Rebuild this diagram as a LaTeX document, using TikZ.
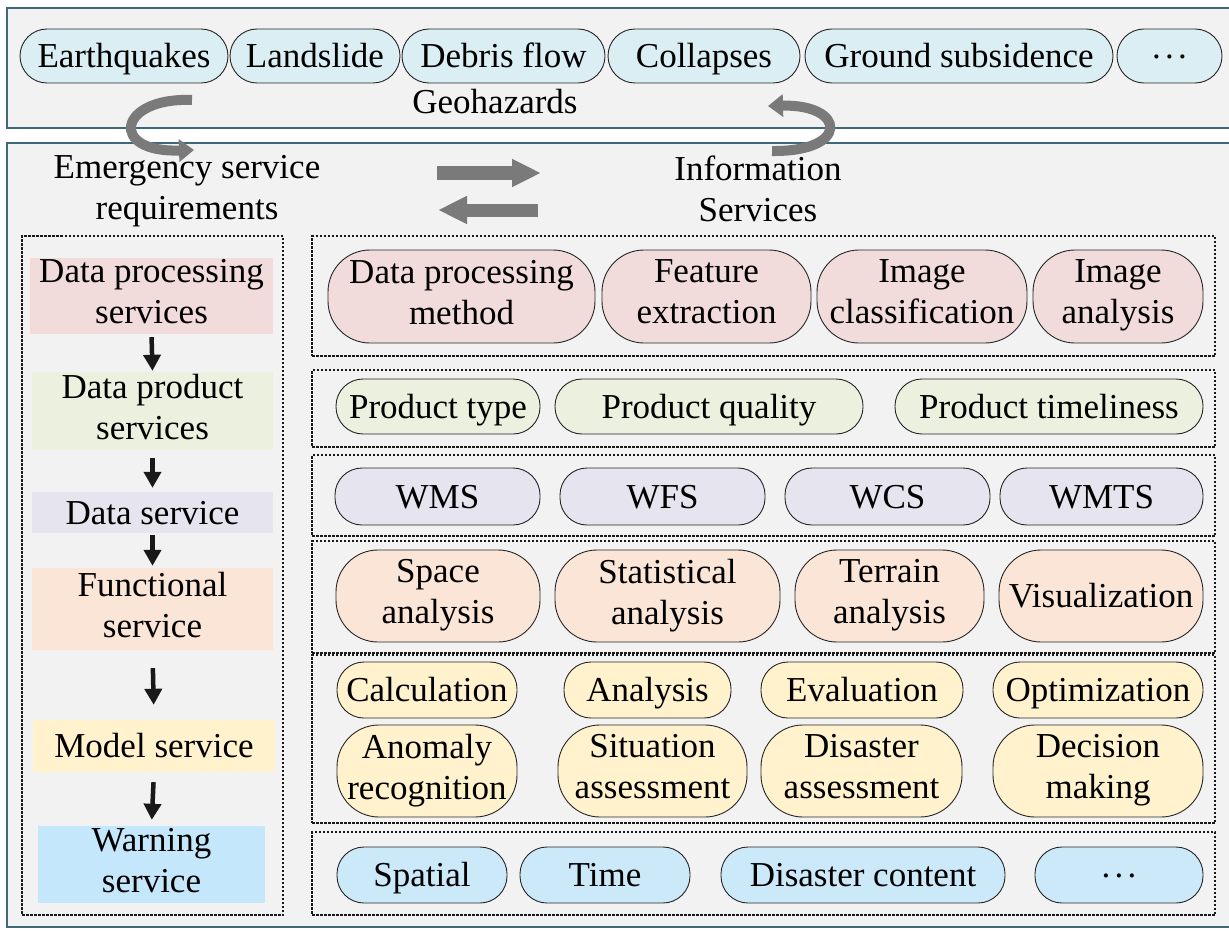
\documentclass[tikz,border=0pt]{standalone}
\usepackage{fontspec}
\setmainfont{Liberation Serif}
\usetikzlibrary{arrows.meta,fit,calc}
\definecolor{bgc}{HTML}{F2F2F2}
\definecolor{framec}{HTML}{41677A}
\definecolor{topblue}{HTML}{DAEEF3}
\definecolor{pinkc}{HTML}{F2DCDB}
\definecolor{greenc}{HTML}{EBF1DE}
\definecolor{lavc}{HTML}{E6E4EE}
\definecolor{peachc}{HTML}{FBE5D6}
\definecolor{yellowc}{HTML}{FFF2CC}
\definecolor{lblue}{HTML}{CCE9FA}
\definecolor{wblue}{HTML}{C5E7FB}
\definecolor{arrgray}{HTML}{7A7A7A}
\newcommand\bnode[7][]{\node[#1, minimum width={#5-#3}, minimum height={#6-#4}] (#2) at ({(#3+#5)/2},{(#4+#6)/2}) {#7};}
\newcommand\mydots{\raisebox{0.25em}{.\hspace{0.12em}.\hspace{0.12em}.}}
\newcommand\mystrut{\rule[-9pt]{0pt}{41pt}}
\begin{document}
\begin{tikzpicture}[x=1pt,y=-1pt,
  every node/.style={font=\fontsize{35}{41}\selectfont, inner sep=0pt, align=center},
  txt/.style={execute at begin node=\mystrut, execute at end node=\mystrut},
  frame/.style={draw=framec, line width=2.2pt, fill=bgc},
  pill/.style={txt, draw=black!85, line width=0.9pt, rounded corners=27pt},
  tallpill/.style={txt, draw=black!85, line width=0.9pt, rounded corners=42pt},
  dbox/.style={draw=black!90, line width=1.5pt, dash pattern=on 2.5pt off 1.5pt},
  lrect/.style={txt, draw=none},
  darr/.style={draw=black!90, line width=4.5pt, -{Triangle[length=16pt,width=17pt]}},
  garr/.style={draw=arrgray, line width=13pt, -{Triangle[length=29pt,width=26pt]}},
  carr/.style={draw=arrgray, line width=10pt, -{Triangle[length=15pt,width=22pt]}},
  lbl/.style={txt}
]
\useasboundingbox (0,0) rectangle (1229,931);
\fill[white] (0,0) rectangle (1229,931);

% frames
\bnode[frame]{lower}{7}{143}{1245}{927}{}
\bnode[frame]{upper}{7}{8}{1245}{128}{}

% top pills
\bnode[pill, fill=topblue]{t1}{20}{29}{228}{83}{Earthquakes}
\bnode[pill, fill=topblue]{t2}{230}{29}{400}{83}{Landslide}
\bnode[pill, fill=topblue]{t3}{402}{29}{605}{83}{Debris flow}
\bnode[pill, fill=topblue]{t4}{608}{29}{800}{83}{Collapses}
\bnode[pill, fill=topblue]{t5}{805}{29}{1113}{83}{Ground subsidence}
\bnode[pill, fill=topblue]{t6}{1117}{29}{1222}{83}{\mydots}
\node[lbl] (geo) at (495,102) {Geohazards};

% headings
\node[lbl] (emr) at (187,192) {Emergency service\\requirements};
\node[lbl] (info) at (758,193) {Information\\Services};

% curved arrows
\coordinate (c1s) at (192,100);
\coordinate (c1e) at (194,150);
\draw[carr] (c1s) .. controls (118,97) and (108,153) .. (c1e);
\coordinate (c2s) at (772,151);
\coordinate (c2e) at (768,106);
\draw[carr] (c2s) .. controls (850,152) and (846,104) .. (c2e);

% straight arrows
\coordinate (s1a) at (437,173);
\coordinate (s1b) at (541,173);
\coordinate (s2a) at (538,210);
\coordinate (s2b) at (438,210);
\draw[garr] (s1a) -- (s1b);
\draw[garr] (s2a) -- (s2b);

% left column
\bnode[dbox]{lbox}{22}{236}{283}{915}{}
\bnode[lrect, fill=pinkc]{l1}{30}{258}{273}{334}{Data processing\\services}
\bnode[lrect, fill=greenc]{l2}{32}{372}{273}{450}{Data product\\services}
\bnode[lrect, fill=lavc]{l3}{32}{495}{273}{530}{Data service}
\bnode[lrect, fill=peachc]{l4}{32}{568}{273}{650}{Functional\\service}
\bnode[lrect, fill=yellowc]{l5}{33}{720}{275}{772}{Model service}
\bnode[lrect, fill=wblue]{l6}{38}{826}{265}{903}{Warning\\service}
\draw[darr, shorten <=3pt, shorten >=1pt] (l1.south) -- (l2.north);
\draw[darr, shorten <=8pt, shorten >=4pt] (l2.south) -- (l3.north);
\draw[darr, shorten <=2pt, shorten >=2pt] (l3.south) -- (l4.north);
\draw[darr, shorten <=18pt, shorten >=15pt] (l4.south) -- (l5.north);
\draw[darr, shorten <=10pt, shorten >=6pt] (l5.south) -- (l6.north);

% right boxes
\bnode[dbox]{r1}{312}{236}{1215}{356}{}
\bnode[dbox]{r2}{312}{370}{1215}{447}{}
\bnode[dbox]{r3}{312}{455}{1215}{536}{}
\bnode[dbox]{r4}{312}{541}{1215}{653}{}
\bnode[dbox]{r5}{312}{655}{1215}{823}{}
\bnode[dbox]{r6}{312}{832}{1215}{915}{}

% box 1
\bnode[tallpill, fill=pinkc]{p11}{328}{250}{595}{343}{Data processing\\method}
\bnode[tallpill, fill=pinkc]{p12}{602}{250}{811}{343}{Feature\\extraction}
\bnode[tallpill, fill=pinkc]{p13}{817}{250}{1027}{343}{Image\\classification}
\bnode[tallpill, fill=pinkc]{p14}{1033}{250}{1203}{343}{Image\\analysis}

% box 2
\bnode[pill, fill=greenc]{p21}{336}{379}{540}{434}{Product type}
\bnode[pill, fill=greenc]{p22}{555}{379}{863}{434}{Product quality}
\bnode[pill, fill=greenc]{p23}{895}{379}{1203}{434}{Product timeliness}

% box 3
\bnode[pill, fill=lavc]{p31}{335}{468}{540}{525}{WMS}
\bnode[pill, fill=lavc]{p32}{560}{468}{765}{525}{WFS}
\bnode[pill, fill=lavc]{p33}{785}{468}{990}{525}{WCS}
\bnode[pill, fill=lavc]{p34}{1000}{468}{1203}{525}{WMTS}

% box 4
\bnode[tallpill, fill=peachc]{p41}{336}{550}{540}{642}{Space\\analysis}
\bnode[tallpill, fill=peachc]{p42}{555}{550}{780}{642}{Statistical\\analysis}
\bnode[tallpill, fill=peachc]{p43}{795}{550}{984}{642}{Terrain\\analysis}
\bnode[tallpill, fill=peachc]{p44}{999}{550}{1203}{642}{Visualization}

% box 5
\bnode[pill, fill=yellowc]{p51}{337}{662}{517}{718}{Calculation}
\bnode[pill, fill=yellowc]{p52}{564}{662}{731}{718}{Analysis}
\bnode[pill, fill=yellowc]{p53}{761}{662}{963}{718}{Evaluation}
\bnode[pill, fill=yellowc]{p54}{993}{662}{1203}{718}{Optimization}
\bnode[tallpill, fill=yellowc]{p55}{337}{725}{517}{817}{Anomaly\\recognition}
\bnode[tallpill, fill=yellowc]{p56}{558}{725}{747}{817}{Situation\\assessment}
\bnode[tallpill, fill=yellowc]{p57}{761}{725}{962}{817}{Disaster\\assessment}
\bnode[tallpill, fill=yellowc]{p58}{993}{725}{1203}{817}{Decision\\making}

% box 6
\bnode[pill, fill=lblue]{p61}{337}{847}{507}{903}{Spatial}
\bnode[pill, fill=lblue]{p62}{520}{847}{690}{903}{Time}
\bnode[pill, fill=lblue]{p63}{721}{847}{1005}{903}{Disaster content}
\bnode[pill, fill=lblue]{p64}{1035}{847}{1203}{903}{\mydots}
\end{tikzpicture}
\end{document}
